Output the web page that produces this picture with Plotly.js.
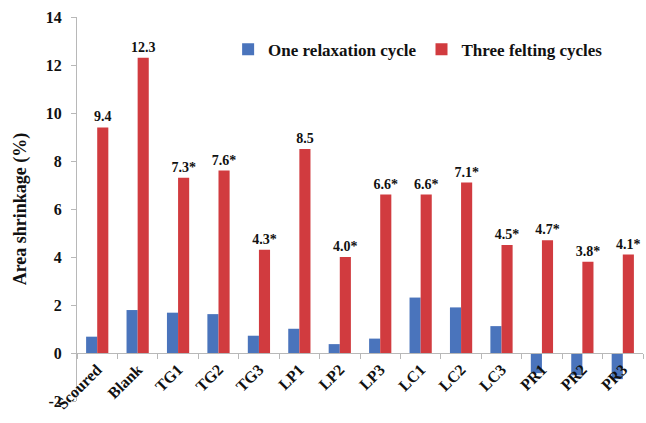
<!DOCTYPE html>
<html>
<head>
<meta charset="utf-8">
<script src="https://cdn.plot.ly/plotly-3.0.1.min.js"></script>
<style>html,body{margin:0;padding:0;background:#fff;}#chart{width:646px;height:423px;}</style>
</head>
<body>
<div id="chart"></div>
<script>
const categories = ["Scoured","Blank","TG1","TG2","TG3","LP1","LP2","LP3","LC1","LC2","LC3","PR1","PR2","PR3"];
const oneRelaxation = [0.68, 1.79, 1.68, 1.62, 0.72, 1.01, 0.37, 0.6, 2.31, 1.9, 1.12, -0.84, -0.93, -1.09];
const threeFelting = [9.4, 12.3, 7.3, 7.6, 4.3, 8.5, 4.0, 6.6, 6.6, 7.1, 4.5, 4.7, 3.8, 4.1];
const feltingLabels = ["9.4","12.3","7.3*","7.6*","4.3*","8.5","4.0*","6.6*","6.6*","7.1*","4.5*","4.7*","3.8*","4.1*"];
const yTicks = [-2, 0, 2, 4, 6, 8, 10, 12, 14];

const font = "Liberation Serif";
const yMin = -2, yMax = 14;

const traces = [
  {type:"bar", name:"<b>One relaxation cycle</b>", x:categories, y:oneRelaxation,
   marker:{color:"#4A74BC"}, hoverinfo:"none"},
  {type:"bar", name:"<b>Three felting cycles</b>", x:categories, y:threeFelting,
   marker:{color:"#D13B3F"}, text:feltingLabels.map(t => "<b>" + t + "</b>"),
   textposition:"outside", constraintext:"none",
   textfont:{family:font, size:14, color:"#111"}, cliponaxis:false, hoverinfo:"none"}
];

const layout = {
  width:646, height:423,
  margin:{l:77, r:3, t:17, b:22},
  paper_bgcolor:"#fff", plot_bgcolor:"#fff",
  barmode:"group", bargap:0.45, bargroupgap:0,
  font:{family:font, color:"#111"},
  showlegend:true,
  legend:{orientation:"h", x:0.267, y:0.915, xanchor:"left", yanchor:"middle",
          font:{family:font, size:17, color:"#111"}, traceorder:"normal",
          bgcolor:"rgba(0,0,0,0)"},
  xaxis:{type:"category", anchor:"free", position:(0 - yMin)/(yMax - yMin),
         tickvals:categories, ticktext:categories.map(c => "<b>" + c + "</b>"),
         showline:true, linecolor:"#B8B8B8", linewidth:1,
         ticks:"outside", ticklen:5, tickcolor:"#B8B8B8", tickson:"boundaries",
         tickangle:-45, tickfont:{family:font, size:16, color:"#111"},
         showgrid:false, automargin:false, fixedrange:true},
  yaxis:{range:[yMin, yMax], tickvals:yTicks, ticktext:yTicks.map(v => "<b>" + v + "</b>"),
         showline:true, linecolor:"#B8B8B8", linewidth:1,
         ticks:"outside", ticklen:5, tickcolor:"#B8B8B8", ticklabelstandoff:6,
         showgrid:false, zeroline:false,
         tickfont:{family:font, size:16, color:"#111"},
         title:{text:"<b>Area shrinkage (%)</b>", font:{family:font, size:18, color:"#111"}, standoff:14},
         automargin:false, fixedrange:true}
};

Plotly.newPlot("chart", traces, layout, {displayModeBar:false, staticPlot:true});
</script>
</body>
</html>
